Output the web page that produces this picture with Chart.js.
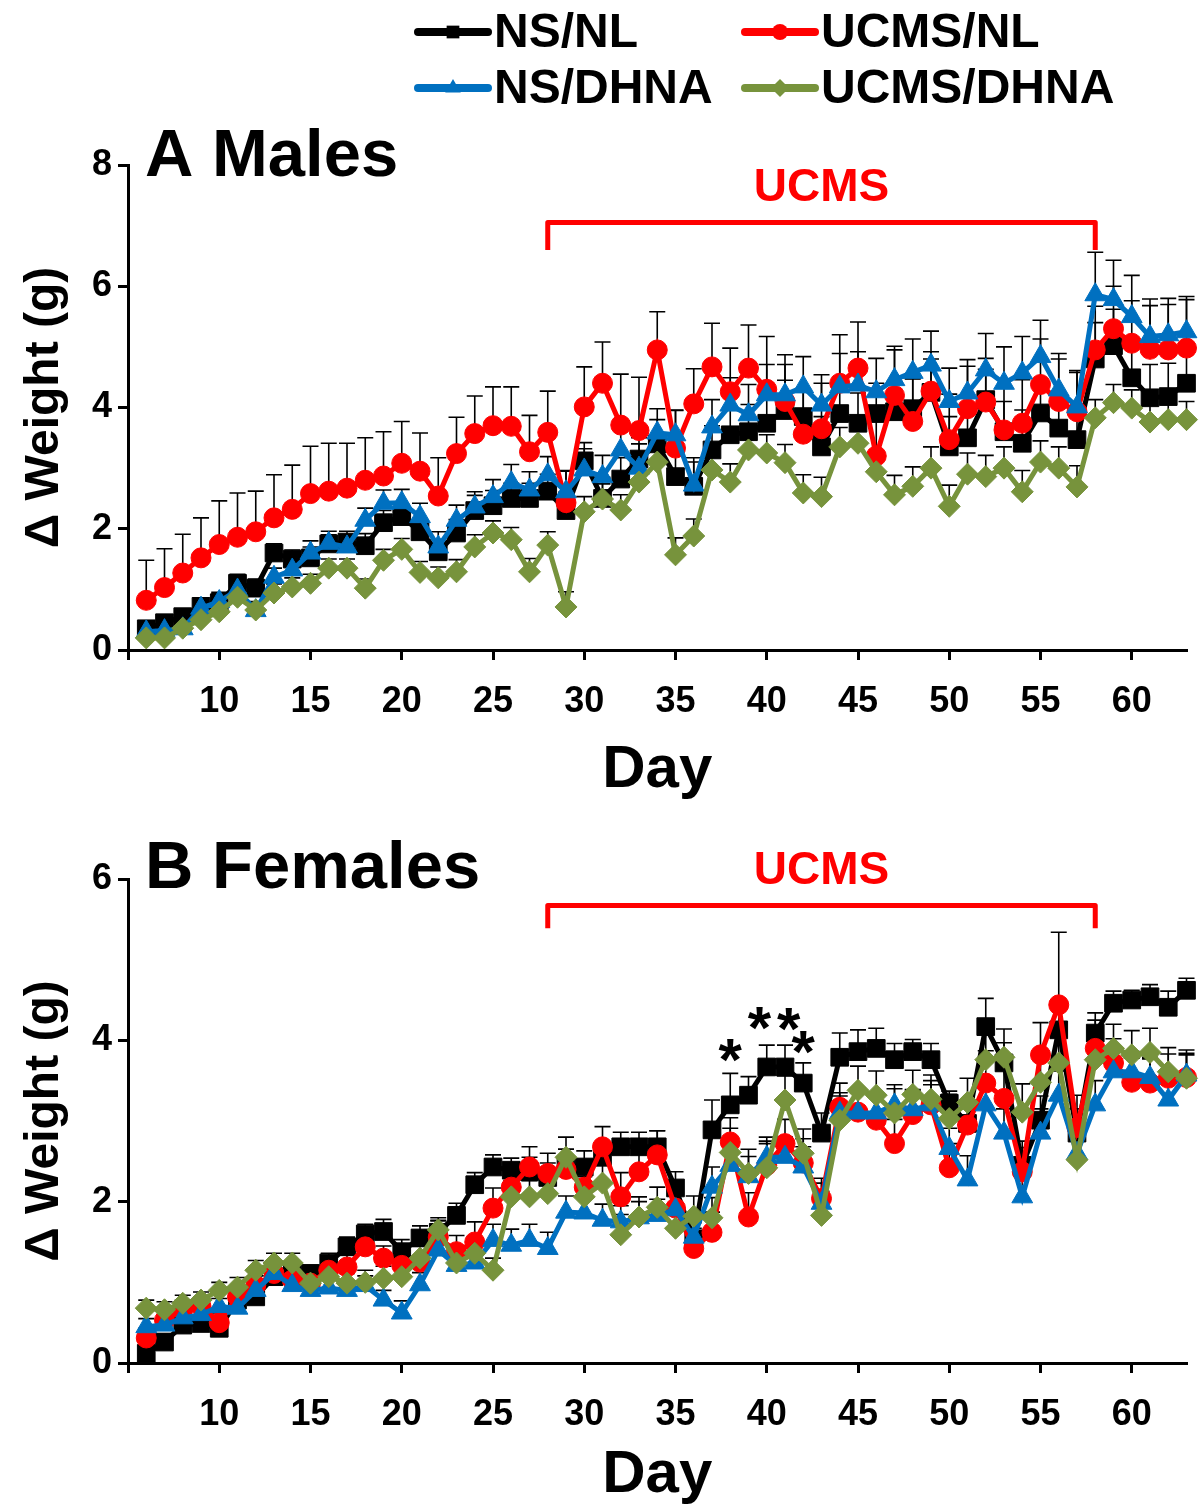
<!DOCTYPE html>
<html>
<head>
<meta charset="utf-8">
<script src="https://cdn.jsdelivr.net/npm/chart.js@4.4.1/dist/chart.umd.min.js"></script>
<style>
  body { margin: 0; background: #fff; width: 1200px; height: 1511px; overflow: hidden; }
  canvas { position: absolute; left: 0; }
</style>
</head>
<body>
<canvas id="malesChart" width="1200" height="800" style="top:0"></canvas>
<canvas id="femalesChart" width="1200" height="711" style="top:800px"></canvas>
<script>
// days 6..63
const days = [6, 7, 8, 9, 10, 11, 12, 13, 14, 15,
  16, 17, 18, 19, 20, 21, 22, 23, 24, 25,
  26, 27, 28, 29, 30, 31, 32, 33, 34, 35,
  36, 37, 38, 39, 40, 41, 42, 43, 44, 45,
  46, 47, 48, 49, 50, 51, 52, 53, 54, 55,
  56, 57, 58, 59, 60, 61, 62, 63];

const seriesNames = ['NS/NL', 'UCMS/NL', 'NS/DHNA', 'UCMS/DHNA'];

// A Males - mean weight change (g)
const malesNSNL = [0.35, 0.45, 0.55, 0.72, 0.78, 1.10, 1.02, 1.60, 1.50, 1.52,
  1.75, 1.78, 1.72, 2.10, 2.20, 1.95, 1.62, 1.93, 2.30, 2.38,
  2.50, 2.50, 2.62, 2.30, 3.12, 2.50, 2.82, 3.15, 3.40, 2.86,
  2.70, 3.30, 3.55, 3.60, 3.74, 3.95, 3.85, 3.35, 3.90, 3.74,
  3.90, 3.93, 3.98, 4.25, 3.35, 3.50, 4.13, 3.60, 3.41, 3.91,
  3.66, 3.47, 4.80, 5.02, 4.49, 4.16, 4.18, 4.40];
const malesUCMSNL = [0.82, 1.03, 1.27, 1.52, 1.74, 1.86, 1.95, 2.18, 2.32, 2.58,
  2.62, 2.67, 2.80, 2.87, 3.08, 2.95, 2.54, 3.24, 3.57, 3.70,
  3.69, 3.27, 3.59, 2.43, 4.01, 4.40, 3.71, 3.62, 4.95, 3.33,
  4.06, 4.67, 4.26, 4.65, 4.30, 4.10, 3.56, 3.65, 4.40, 4.65,
  3.20, 4.20, 3.77, 4.27, 3.47, 3.98, 4.09, 3.63, 3.74, 4.38,
  4.10, 3.93, 4.95, 5.30, 5.06, 4.96, 4.95, 4.98];
const malesNSDHNA = [0.30, 0.32, 0.35, 0.69, 0.80, 0.99, 0.65, 1.20, 1.32, 1.60,
  1.76, 1.70, 2.14, 2.42, 2.43, 2.20, 1.70, 2.14, 2.36, 2.53,
  2.76, 2.64, 2.89, 2.61, 2.97, 2.86, 3.30, 3.00, 3.58, 3.55,
  2.72, 3.68, 4.04, 3.88, 4.21, 4.21, 4.34, 4.04, 4.34, 4.37,
  4.26, 4.46, 4.58, 4.70, 4.10, 4.24, 4.62, 4.40, 4.57, 4.84,
  4.29, 4.01, 5.86, 5.78, 5.50, 5.17, 5.20, 5.25];
const malesUCMSDHNA = [0.20, 0.20, 0.36, 0.50, 0.63, 0.87, 0.66, 0.94, 1.04, 1.10,
  1.35, 1.35, 1.02, 1.48, 1.66, 1.28, 1.19, 1.29, 1.70, 1.93,
  1.82, 1.29, 1.73, 0.71, 2.28, 2.49, 2.31, 2.77, 3.10, 1.57,
  1.88, 2.97, 2.77, 3.30, 3.25, 3.09, 2.59, 2.53, 3.35, 3.41,
  2.94, 2.56, 2.70, 3.00, 2.37, 2.90, 2.86, 3.00, 2.61, 3.10,
  3.00, 2.69, 3.83, 4.08, 3.99, 3.76, 3.80, 3.80];

// A Males - SEM (upper bars only)
const malesNSNLErr = [0.10, 0.10, 0.12, 0.12, 0.15, 0.15, 0.15, 0.15, 0.15, 0.18,
  0.15, 0.18, 0.20, 0.20, 0.20, 0.20, 0.20, 0.22, 0.25, 0.25,
  0.25, 0.25, 0.28, 0.30, 0.30, 0.35, 0.35, 0.35, 0.40, 0.40,
  0.40, 0.40, 0.45, 0.45, 0.45, 0.50, 0.45, 0.50, 0.50, 0.50,
  0.50, 0.50, 0.50, 0.55, 0.50, 0.55, 0.50, 0.50, 0.55, 0.50,
  0.55, 0.55, 0.60, 0.60, 0.60, 0.55, 0.55, 0.55];
const malesUCMSNLErr = [0.66, 0.64, 0.64, 0.66, 0.72, 0.73, 0.67, 0.71, 0.73, 0.78,
  0.79, 0.74, 0.70, 0.73, 0.69, 0.63, 0.63, 0.60, 0.62, 0.64,
  0.65, 0.60, 0.68, 0.52, 0.66, 0.68, 0.84, 0.88, 0.63, 0.63,
  0.58, 0.72, 0.72, 0.71, 0.87, 0.77, 0.70, 0.75, 0.80, 0.76,
  0.80, 0.75, 0.70, 0.65, 0.75, 0.70, 0.72, 0.70, 0.72, 0.75,
  0.70, 0.65, 0.72, 0.70, 0.70, 0.72, 0.75, 0.80];
const malesNSDHNAErr = [0.10, 0.10, 0.12, 0.15, 0.15, 0.15, 0.15, 0.15, 0.18, 0.20,
  0.20, 0.20, 0.20, 0.22, 0.22, 0.22, 0.25, 0.25, 0.25, 0.28,
  0.30, 0.30, 0.30, 0.35, 0.35, 0.35, 0.40, 0.40, 0.40, 0.40,
  0.45, 0.45, 0.45, 0.50, 0.50, 0.50, 0.50, 0.50, 0.55, 0.55,
  0.55, 0.55, 0.55, 0.56, 0.55, 0.55, 0.60, 0.60, 0.60, 0.60,
  0.60, 0.60, 0.70, 0.65, 0.68, 0.62, 0.60, 0.58];
const malesUCMSDHNAErr = [0.08, 0.08, 0.10, 0.10, 0.12, 0.12, 0.12, 0.15, 0.15, 0.15,
  0.15, 0.15, 0.15, 0.18, 0.18, 0.18, 0.18, 0.20, 0.20, 0.20,
  0.20, 0.22, 0.22, 0.25, 0.25, 0.25, 0.25, 0.28, 0.28, 0.28,
  0.28, 0.30, 0.30, 0.30, 0.30, 0.30, 0.30, 0.32, 0.32, 0.32,
  0.32, 0.32, 0.32, 0.35, 0.35, 0.35, 0.35, 0.35, 0.35, 0.35,
  0.35, 0.35, 0.30, 0.30, 0.30, 0.30, 0.30, 0.30];

// B Females - mean weight change (g)
const femalesNSNL = [0.12, 0.26, 0.47, 0.49, 0.43, 0.78, 0.82, 1.07, 1.13, 1.11,
  1.24, 1.44, 1.60, 1.63, 1.38, 1.55, 1.62, 1.83, 2.21, 2.43,
  2.39, 2.37, 2.30, 2.45, 2.43, 2.55, 2.68, 2.68, 2.68, 2.17,
  1.54, 2.89, 3.20, 3.32, 3.67, 3.67, 3.47, 2.85, 3.79, 3.86,
  3.90, 3.76, 3.86, 3.76, 3.22, 2.97, 4.17, 3.72, 2.45, 3.01,
  4.13, 2.85, 4.09, 4.46, 4.50, 4.54, 4.41, 4.62];
const femalesUCMSNL = [0.31, 0.53, 0.66, 0.70, 0.50, 0.82, 0.96, 1.11, 1.03, 0.99,
  1.15, 1.19, 1.44, 1.30, 1.21, 1.25, 1.56, 1.38, 1.50, 1.92,
  2.18, 2.43, 2.35, 2.40, 2.18, 2.68, 2.06, 2.37, 2.58, 1.92,
  1.42, 1.62, 2.74, 1.81, 2.45, 2.72, 2.48, 2.04, 3.17, 3.11,
  3.01, 2.72, 3.08, 3.20, 2.42, 2.95, 3.47, 3.28, 2.37, 3.82,
  4.44, 2.92, 3.90, 3.72, 3.48, 3.47, 3.53, 3.54];
const femalesNSDHNA = [0.45, 0.47, 0.56, 0.60, 0.70, 0.68, 0.90, 1.11, 0.96, 0.90,
  0.93, 0.90, 0.96, 0.78, 0.62, 0.97, 1.40, 1.21, 1.24, 1.52,
  1.46, 1.52, 1.42, 1.87, 1.86, 1.77, 1.75, 1.80, 1.83, 1.90,
  1.56, 2.18, 2.45, 2.31, 2.55, 2.55, 2.43, 1.98, 3.10, 3.10,
  3.10, 3.20, 3.14, 3.20, 2.66, 2.27, 3.20, 2.85, 2.06, 2.85,
  3.32, 2.60, 3.20, 3.61, 3.61, 3.54, 3.26, 3.57];
const femalesUCMSDHNA = [0.68, 0.66, 0.74, 0.78, 0.90, 0.94, 1.15, 1.24, 1.24, 0.99,
  1.07, 0.99, 1.00, 1.05, 1.07, 1.30, 1.65, 1.24, 1.36, 1.15,
  2.06, 2.06, 2.10, 2.55, 2.06, 2.23, 1.59, 1.81, 1.93, 1.67,
  1.82, 1.80, 2.61, 2.35, 2.42, 3.26, 2.60, 1.83, 3.01, 3.38,
  3.32, 3.10, 3.33, 3.27, 3.03, 3.23, 3.76, 3.79, 3.11, 3.48,
  3.72, 2.52, 3.76, 3.90, 3.82, 3.85, 3.61, 3.53];

// B Females - SEM (upper bars only)
const femalesNSNLErr = [0.10, 0.10, 0.08, 0.08, 0.10, 0.10, 0.10, 0.12, 0.10, 0.10,
  0.12, 0.12, 0.12, 0.15, 0.15, 0.15, 0.15, 0.15, 0.15, 0.15,
  0.15, 0.18, 0.18, 0.20, 0.20, 0.18, 0.18, 0.18, 0.20, 0.20,
  0.20, 0.37, 0.39, 0.23, 0.27, 0.27, 0.25, 0.25, 0.30, 0.27,
  0.25, 0.20, 0.15, 0.20, 0.15, 0.20, 0.35, 0.25, 0.30, 0.30,
  0.30, 0.30, 0.25, 0.15, 0.12, 0.15, 0.20, 0.15];
const femalesUCMSNLErr = [0.12, 0.12, 0.12, 0.12, 0.12, 0.12, 0.12, 0.15, 0.12, 0.12,
  0.15, 0.15, 0.15, 0.15, 0.20, 0.20, 0.20, 0.20, 0.25, 0.25,
  0.25, 0.25, 0.25, 0.25, 0.25, 0.25, 0.30, 0.30, 0.30, 0.25,
  0.25, 0.25, 0.30, 0.30, 0.30, 0.30, 0.30, 0.25, 0.30, 0.30,
  0.30, 0.30, 0.30, 0.30, 0.30, 0.30, 0.40, 0.40, 0.30, 0.40,
  0.90, 0.40, 0.35, 0.30, 0.30, 0.30, 0.30, 0.30];
const femalesNSDHNAErr = [0.10, 0.10, 0.10, 0.10, 0.10, 0.10, 0.10, 0.12, 0.12, 0.12,
  0.12, 0.12, 0.12, 0.12, 0.15, 0.15, 0.15, 0.15, 0.15, 0.20,
  0.20, 0.20, 0.20, 0.20, 0.20, 0.20, 0.20, 0.20, 0.20, 0.20,
  0.20, 0.25, 0.25, 0.25, 0.25, 0.25, 0.25, 0.25, 0.25, 0.25,
  0.25, 0.25, 0.25, 0.25, 0.25, 0.30, 0.30, 0.30, 0.30, 0.30,
  0.30, 0.30, 0.30, 0.25, 0.25, 0.25, 0.25, 0.25];
const femalesUCMSDHNAErr = [0.10, 0.10, 0.10, 0.10, 0.10, 0.12, 0.12, 0.12, 0.12, 0.12,
  0.12, 0.12, 0.15, 0.15, 0.15, 0.15, 0.15, 0.15, 0.15, 0.15,
  0.20, 0.20, 0.25, 0.25, 0.25, 0.25, 0.25, 0.25, 0.25, 0.25,
  0.25, 0.25, 0.30, 0.30, 0.30, 0.30, 0.30, 0.30, 0.30, 0.30,
  0.30, 0.30, 0.30, 0.30, 0.30, 0.30, 0.35, 0.35, 0.35, 0.35,
  0.35, 0.35, 0.35, 0.30, 0.30, 0.30, 0.30, 0.35];

// significance stars (females), day / y position
const starDays = [38, 39.6, 41.2, 42];
const starLevels = [3.92, 4.32, 4.30, 4.02];

const xTicks = [5, 10, 15, 20, 25, 30, 35, 40, 45, 50, 55, 60];

const FONT = "'Liberation Sans', Arial, sans-serif";
const colors = ['#000000', '#ff0000', '#0070c0', '#77933c'];
const styles = [
  { pointStyle: 'rect', radius: 12.5, legendRadius: 9 },
  { pointStyle: 'circle', radius: 10, legendRadius: 8 },
  { pointStyle: 'triangle', radius: 12, legendRadius: 9 },
  { pointStyle: 'rectRot', radius: 11, legendRadius: 9 }
];

function makeDataset(i, values, errors) {
  return {
    label: seriesNames[i],
    data: values.map((v, j) => ({ x: days[j], y: v })),
    errors: errors,
    borderColor: colors[i],
    backgroundColor: colors[i],
    borderWidth: 5,
    pointStyle: styles[i].pointStyle,
    pointRadius: styles[i].radius,
    pointBorderWidth: 1,
    pointBackgroundColor: colors[i],
    pointBorderColor: colors[i],
    tension: 0,
    clip: false,
    order: 4 - i   // green on top, black at bottom
  };
}

// upward error bars
const errorBars = {
  id: 'errorBars',
  beforeDatasetsDraw(chart) {
    const ctx = chart.ctx;
    const yScale = chart.scales.y;
    ctx.save();
    ctx.strokeStyle = '#000';
    ctx.lineWidth = 1.6;
    chart.data.datasets.forEach((ds, i) => {
      const meta = chart.getDatasetMeta(i);
      meta.data.forEach((pt, j) => {
        const top = yScale.getPixelForValue(ds.data[j].y + ds.errors[j]);
        ctx.beginPath();
        ctx.moveTo(pt.x, pt.y);
        ctx.lineTo(pt.x, top);
        ctx.moveTo(pt.x - 8, top);
        ctx.lineTo(pt.x + 8, top);
        ctx.stroke();
      });
    });
    ctx.restore();
  }
};

// panel title, UCMS bracket, stars
const panelNotes = {
  id: 'panelNotes',
  afterDraw(chart, args, opts) {
    const ctx = chart.ctx;
    const xs = chart.scales.x, ys = chart.scales.y;
    const area = chart.chartArea;
    ctx.save();
    ctx.fillStyle = '#000';
    ctx.font = 'bold 67px ' + FONT;
    ctx.textAlign = 'left';
    ctx.textBaseline = 'alphabetic';
    ctx.fillText(opts.title, area.left + 17, area.top + opts.titleDrop);

    const b = opts.bracket;
    const x0 = xs.getPixelForValue(b.from), x1 = xs.getPixelForValue(b.to);
    const yl = ys.getPixelForValue(b.level), yd = ys.getPixelForValue(b.drop);
    ctx.strokeStyle = '#ff0000';
    ctx.lineWidth = 5;
    ctx.lineJoin = 'round';
    ctx.lineCap = 'butt';
    ctx.beginPath();
    ctx.moveTo(x0, yd);
    ctx.lineTo(x0, yl);
    ctx.lineTo(x1, yl);
    ctx.lineTo(x1, yd);
    ctx.stroke();
    ctx.fillStyle = '#ff0000';
    ctx.font = 'bold 46px ' + FONT;
    ctx.textAlign = 'center';
    ctx.textBaseline = 'middle';
    ctx.fillText('UCMS', (x0 + x1) / 2, ys.getPixelForValue(b.labelAt));

    if (opts.stars) {
      ctx.fillStyle = '#000';
      ctx.font = 'bold 60px ' + FONT;
      ctx.textBaseline = 'alphabetic';
      opts.stars.days.forEach((d, k) => {
        const px = xs.getPixelForValue(d);
        const py = ys.getPixelForValue(opts.stars.levels[k]);
        ctx.fillText('*', px, py + 0.55 * 60);
      });
    }
    ctx.restore();
  }
};

// legend drawn at the top of the first canvas
const topLegend = {
  id: 'topLegend',
  afterDraw(chart, args, opts) {
    if (!opts.show) return;
    const ctx = chart.ctx;
    const slots = [
      { x: 418, y: 32 }, { x: 745, y: 32 },
      { x: 418, y: 88 }, { x: 745, y: 88 }
    ];
    ctx.save();
    seriesNames.forEach((name, i) => {
      const s = slots[i];
      ctx.strokeStyle = colors[i];
      ctx.fillStyle = colors[i];
      ctx.lineWidth = 8;
      ctx.lineCap = 'round';
      ctx.beginPath();
      ctx.moveTo(s.x, s.y);
      ctx.lineTo(s.x + 70, s.y);
      ctx.stroke();
      Chart.helpers.drawPoint(ctx, {
        pointStyle: styles[i].pointStyle,
        radius: styles[i].legendRadius,
        rotation: 0,
        borderWidth: 0
      }, s.x + 35, s.y);
      ctx.fillStyle = '#000';
      ctx.font = 'bold 48px ' + FONT;
      ctx.textAlign = 'left';
      ctx.textBaseline = 'middle';
      ctx.fillText(name, s.x + 76, s.y + 2);
    });
    ctx.restore();
  }
};

function makeChart(canvasId, sets, cfg) {
  return new Chart(document.getElementById(canvasId), {
    type: 'line',
    data: { datasets: sets },
    options: {
      responsive: false,
      animation: false,
      devicePixelRatio: 1,
      layout: { padding: { top: cfg.padTop, right: 10, left: 0, bottom: 0 } },
      plugins: {
        legend: { display: false },
        tooltip: { enabled: false },
        panelNotes: cfg.notes,
        topLegend: { show: cfg.legend }
      },
      scales: {
        x: {
          type: 'linear',
          min: 5,
          max: 63,
          afterFit: (s) => { s.height = cfg.xHeight; },
          afterBuildTicks: (s) => { s.ticks = xTicks.map(v => ({ value: v })); },
          ticks: {
            callback: (v) => (v === 5 ? '' : v),
            color: '#000',
            font: { family: FONT, size: 36, weight: 'bold' },
            padding: 20,
            maxRotation: 0,
            autoSkip: false
          },
          grid: { drawOnChartArea: false, color: '#000', lineWidth: 3, tickLength: 10 },
          border: { color: '#000', width: 3 },
          title: {
            display: true,
            text: 'Day',
            color: '#000',
            font: { family: FONT, size: 60, weight: 'bold', lineHeight: 1 },
            padding: { top: 0, bottom: cfg.dayPad }
          }
        },
        y: {
          min: 0,
          max: cfg.yMax,
          afterFit: (s) => { s.width = 128; },
          ticks: {
            stepSize: 2,
            color: '#000',
            font: { family: FONT, size: 36, weight: 'bold' },
            padding: 6
          },
          grid: { drawOnChartArea: false, color: '#000', lineWidth: 3, tickLength: 10 },
          border: { color: '#000', width: 3 },
          title: {
            display: true,
            text: 'Δ Weight (g)',
            color: '#000',
            font: { family: FONT, size: 48, weight: 'bold', lineHeight: 1.2 },
            padding: { top: 16, bottom: 0 }
          }
        }
      }
    },
    plugins: [errorBars, panelNotes, topLegend]
  });
}

const malesChart = makeChart('malesChart', [
  makeDataset(0, malesNSNL, malesNSNLErr),
  makeDataset(1, malesUCMSNL, malesUCMSNLErr),
  makeDataset(2, malesNSDHNA, malesNSDHNAErr),
  makeDataset(3, malesUCMSDHNA, malesUCMSDHNAErr)
], {
  padTop: 165, xHeight: 150, yMax: 8, dayPad: 0, legend: true,
  notes: {
    title: 'A Males', titleDrop: 11,
    bracket: { from: 28, to: 58, level: 7.05, drop: 6.6, labelAt: 7.62 }
  }
});

const femalesChart = makeChart('femalesChart', [
  makeDataset(0, femalesNSNL, femalesNSNLErr),
  makeDataset(1, femalesUCMSNL, femalesUCMSNLErr),
  makeDataset(2, femalesNSDHNA, femalesNSDHNAErr),
  makeDataset(3, femalesUCMSDHNA, femalesUCMSDHNAErr)
], {
  padTop: 79, xHeight: 148, yMax: 6, dayPad: 6, legend: false,
  notes: {
    title: 'B Females', titleDrop: 9,
    bracket: { from: 28, to: 58, level: 5.67, drop: 5.39, labelAt: 6.1 },
    stars: { days: starDays, levels: starLevels }
  }
});
</script>
</body>
</html>
